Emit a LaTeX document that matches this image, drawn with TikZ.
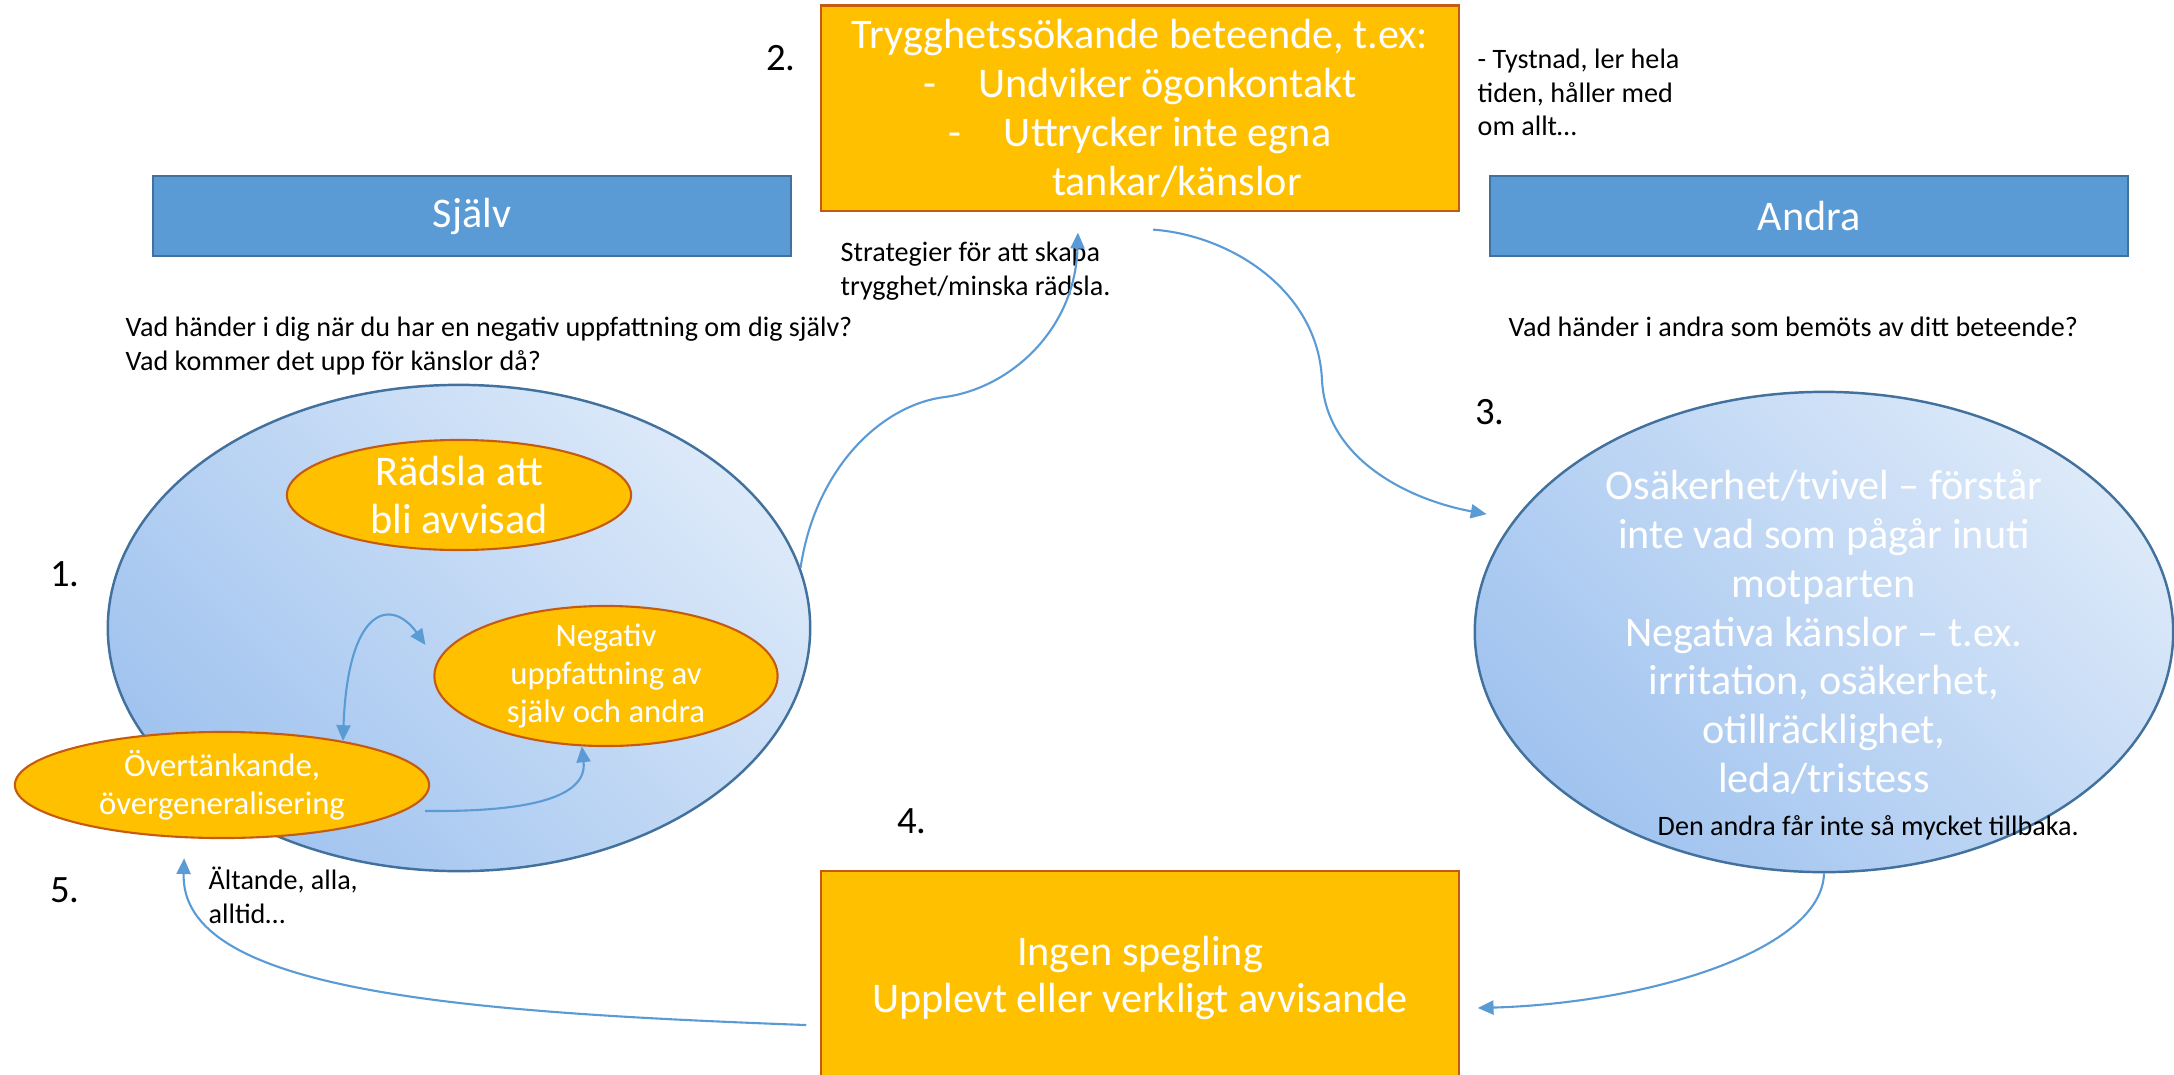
\documentclass[tikz,border=0pt]{standalone}
\usepackage{fontspec}
\setmainfont{Carlito}
\usetikzlibrary{shapes.geometric,arrows.meta}

\definecolor{gul}{HTML}{FFC000}
\definecolor{gulkant}{HTML}{C55A11}
\definecolor{rubrik}{HTML}{5B9BD5}
\definecolor{rubrikkant}{HTML}{41719C}
\definecolor{ljus}{HTML}{DCE9F9}
\definecolor{mork}{HTML}{A0C3EF}
\definecolor{pil}{HTML}{5B9BD5}

\begin{document}
\begin{tikzpicture}[x=0.01cm,y=-0.01cm,
    >={Triangle[length=4.5pt,width=4pt]},
    box/.style={rectangle,fill=gul,draw=gulkant,line width=0.6pt,text=white,align=center,
      minimum width=6.37cm,inner sep=1pt,font=\fontsize{12}{13.9}\selectfont},
    head/.style={rectangle,fill=rubrik,draw=rubrikkant,line width=0.5pt,text=white,
      minimum width=6.37cm,minimum height=0.8cm,font=\fontsize{12}{14}\selectfont},
    zone/.style={ellipse,draw=rubrikkant,line width=0.7pt,top color=ljus,bottom color=mork,
      shading angle=-45,text=white,align=center,inner xsep=0pt,inner ysep=-2pt},
    bubble/.style={ellipse,fill=gul,draw=gulkant,line width=0.6pt,text=white,align=center,
      inner xsep=0pt,inner ysep=-2pt},
    note/.style={anchor=north west,inner sep=0pt,align=left,font=\fontsize{8}{9.6}\selectfont},
    num/.style={inner sep=0pt,font=\fontsize{11}{13}\selectfont},
    flow/.style={->,draw=pil,line width=0.6pt}]

    \useasboundingbox (0,0) rectangle (2174,1075);

    % rubriker
    \node[head] (sjalv) at (472,216) {Själv};
    \node[head] (andra) at (1809,216) {Andra};

    % stora ellipser
    \node[zone,minimum width=7.02cm,minimum height=4.86cm] (inre) at (459,628) {};
    \node[zone,minimum width=6.98cm,minimum height=4.80cm,
      font=\fontsize{12}{13.9}\selectfont] (yttre) at (1824,632)
      {Osäkerhet/tvivel – förstår\\inte vad som pågår inuti\\motparten\\Negativa känslor – t.ex.\\irritation, osäkerhet,\\otillräcklighet,\\leda/tristess};

    % bubblor
    \node[bubble,minimum width=3.44cm,minimum height=1.10cm,
      font=\fontsize{12}{13.4}\selectfont] (radsla) at (459,495) {Rädsla att\\bli avvisad};
    \node[bubble,minimum width=3.43cm,minimum height=1.40cm,
      font=\fontsize{9.3}{10.8}\selectfont] (negativ) at (606,676) {Negativ\\uppfattning av\\själv och andra};
    \node[bubble,minimum width=4.14cm,minimum height=1.06cm,
      font=\fontsize{9.3}{10.8}\selectfont] (overtank) at (222,785) {Övertänkande,\\övergeneralisering};

    % rutor
    \node[box,minimum height=2.05cm] (beteende) at (1140,108)
      {Trygghetssökande beteende, t.ex:\\-\hspace{12pt}Undviker ögonkontakt\\-\hspace{12pt}Uttrycker inte egna\\\hspace*{21pt}tankar/känslor};
    \node[box,minimum height=2.14cm,font=\fontsize{12}{13.5}\selectfont] (spegling) at (1140,978)
      {Ingen spegling\\Upplevt eller verkligt avvisande};

    % siffror
    \node[num] (n1) at (65,574) {1.};
    \node[num] (n2) at (781,58) {2.};
    \node[num] (n3) at (1490,412) {3.};
    \node[num] (n4) at (912,821) {4.};
    \node[num] (n5) at (65,890) {5.};

    % texter
    \node[note] (tystnad) at (1477,48) {- Tystnad, ler hela\\tiden, håller med\\om allt…};
    \node[note] (strategi) at (840,241) {Strategier för att skapa\\trygghet/minska rädsla.};
    \node[note] (fragasjalv) at (125,316) {Vad händer i dig när du har en negativ uppfattning om dig själv?\\Vad kommer det upp för känslor då?};
    \node[note] (fragaandra) at (1508,316) {Vad händer i andra som bemöts av ditt beteende?};
    \node[note] (tillbaka) at (1657,815) {Den andra får inte så mycket tillbaka.};
    \node[note] (altande) at (208,866) {Ältande, alla,\\alltid…};

    % pilar
    \draw[flow] (inre.10) .. controls (815,470) and (880,405) .. (945,397)
      .. controls (1010,388) and (1075,330) .. ([xshift=-0.62cm,yshift=-0.21cm]beteende.south);
    \draw[flow,shorten >=0.28cm] ([xshift=0.13cm,yshift=-0.18cm]beteende.south)
      .. controls (1230,235) and (1318,290) .. (1322,380)
      .. controls (1326,460) and (1410,500) .. (yttre.160);
    \draw[flow] (yttre.south) .. controls (1822,950) and (1650,1003) .. ([xshift=0.18cm,yshift=-0.3cm]spegling.east);
    \draw[flow,shorten >=0.2cm] ([xshift=-0.14cm,yshift=-0.47cm]spegling.west)
      .. controls (450,1012) and (180,990) .. (overtank.235);
    \draw[flow,<->,shorten >=0.2cm] (overtank.20) .. controls (348,605) and (392,598) .. (negativ.175);
    \draw[flow,shorten <=0.2cm] (overtank.-8) .. controls (520,812) and (588,800) .. (negativ.251);

\end{tikzpicture}
\end{document}
